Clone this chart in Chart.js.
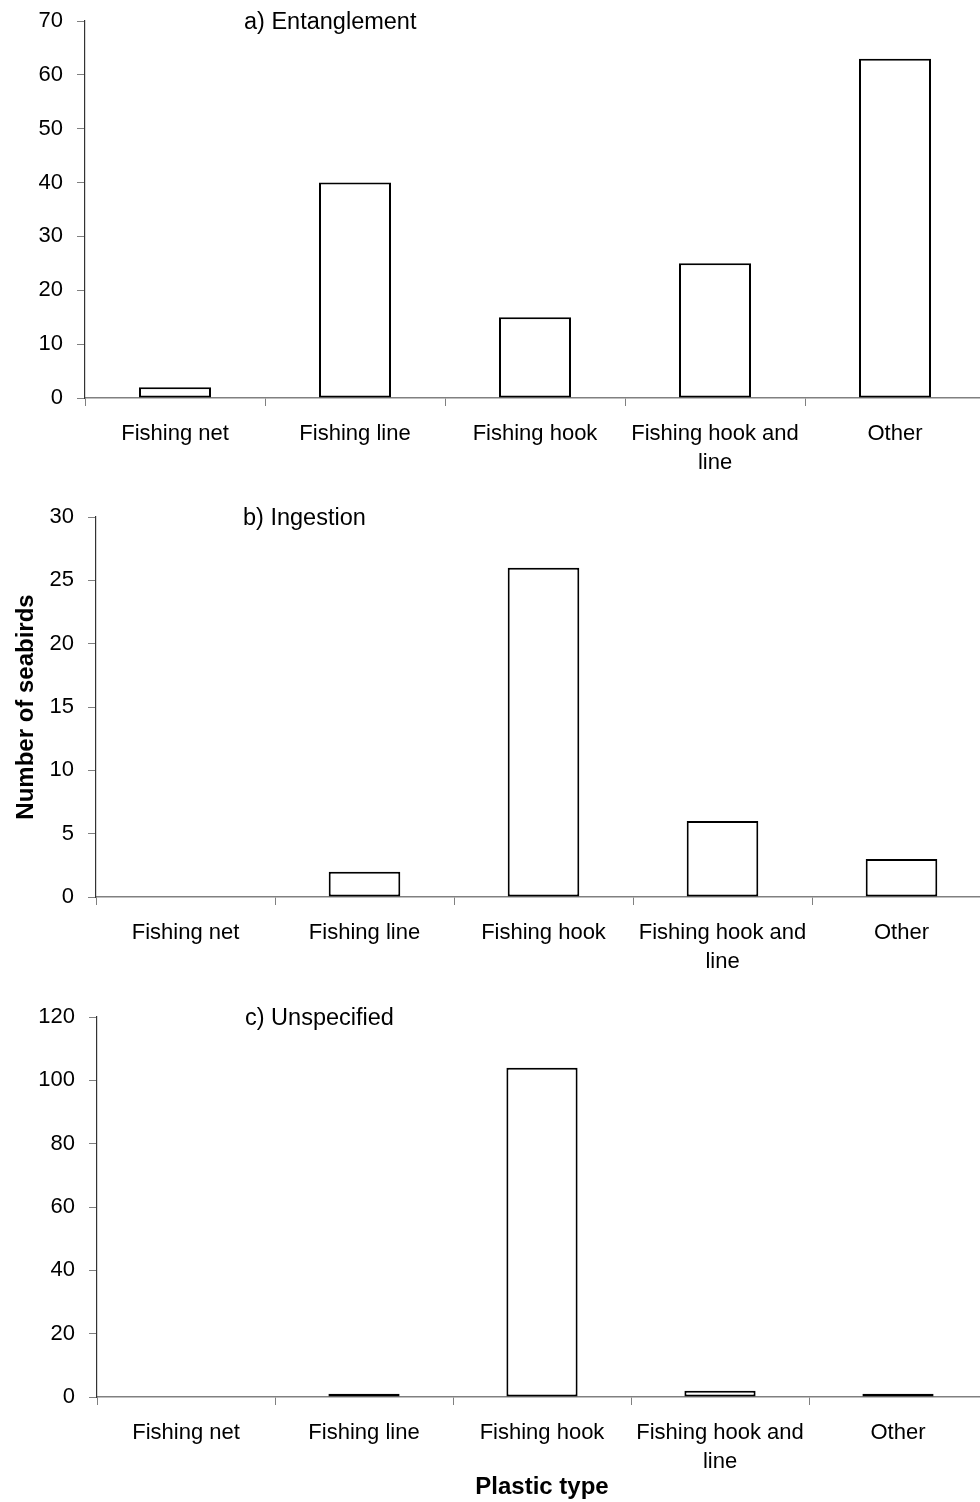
<!DOCTYPE html>
<html>
<head>
<meta charset="utf-8">
<script src="https://cdn.jsdelivr.net/npm/chart.js@4/dist/chart.umd.min.js"></script>
<style>
  html, body { margin: 0; padding: 0; background: #fff; }
  body { width: 980px; height: 1502px; position: relative; overflow: hidden; }
  canvas { position: absolute; left: 0; }
</style>
</head>
<body>
<canvas id="chartA"></canvas>
<canvas id="chartB"></canvas>
<canvas id="chartC"></canvas>
<script>
// ═════ DATA ═════
const categories = ['Fishing net', 'Fishing line', 'Fishing hook', ['Fishing hook and', 'line'], 'Other'];
const entanglement = [2, 40, 15, 25, 63];
const ingestion = [0, 2, 26, 6, 3];
const unspecified = [0, 1, 104, 2, 1];
const panelTitles = ['a) Entanglement', 'b) Ingestion', 'c) Unspecified'];
const yMax = [70, 30, 120];
const yStep = [10, 5, 20];
const yAxisTitle = 'Number of seabirds';
const xAxisTitle = 'Plastic type';

// ═════ LAYOUT ═════
const FONT = 'Arial, "Liberation Sans", sans-serif';
Chart.defaults.font.family = FONT;
Chart.defaults.font.size = 22;
Chart.defaults.color = '#000';

const panels = [
  { id: 'chartA', values: entanglement, top: 0,    height: 490, width: 985, axisX: 85, plotTop: 21, plotBottom: 398, titleX: 244 },
  { id: 'chartB', values: ingestion,    top: 500,  height: 490, width: 991, axisX: 96, plotTop: 17, plotBottom: 397, titleX: 243, yTitle: true },
  { id: 'chartC', values: unspecified,  top: 1000, height: 502, width: 987, axisX: 97, plotTop: 17, plotBottom: 397, titleX: 245, xTitle: true }
];

// panel caption drawn inside the plot area
const panelTitle = {
  id: 'panelTitle',
  afterDraw(chart, args, opts) {
    const ctx = chart.ctx;
    ctx.save();
    ctx.font = '23.5px ' + FONT;
    ctx.fillStyle = '#000';
    ctx.textBaseline = 'middle';
    ctx.fillText(opts.text, opts.x, chart.chartArea.top + 2);
    ctx.restore();
  }
};

panels.forEach((p, i) => {
  const cv = document.getElementById(p.id);
  cv.width = p.width; cv.height = p.height;
  cv.style.top = p.top + 'px';
  new Chart(cv.getContext('2d'), {
    type: 'bar',
    data: {
      labels: categories,
      datasets: [{
        data: p.values,
        backgroundColor: '#fff',
        borderColor: '#000',
        borderWidth: 2,
        borderSkipped: false,
        categoryPercentage: 1,
        barPercentage: 0.4
      }]
    },
    plugins: [panelTitle],
    options: {
      responsive: false,
      animation: false,
      devicePixelRatio: 1,
      layout: { padding: { top: p.plotTop, left: 0, right: 0, bottom: 0 } },
      plugins: {
        legend: { display: false },
        tooltip: { enabled: false },
        panelTitle: { text: panelTitles[i], x: p.titleX }
      },
      scales: {
        x: {
          grid: { offset: true, drawOnChartArea: false, drawTicks: true, tickLength: 8, color: '#808080' },
          border: { color: '#808080', width: 1.5 },
          ticks: { maxRotation: 0, autoSkip: false, padding: 13, font: { size: 22, lineHeight: 1.32 } },
          title: { display: !!p.xTitle, text: xAxisTitle, font: { size: 24, weight: 'bold' }, padding: { top: 0, bottom: 0 } },
          afterFit: s => { s.height = p.height - p.plotBottom; }
        },
        y: {
          min: 0, max: yMax[i],
          grid: { drawOnChartArea: false, drawTicks: true, tickLength: 8, color: '#808080' },
          border: { color: '#333', width: 1.2 },
          ticks: { stepSize: yStep[i], padding: 14, font: { size: 22 } },
          title: { display: !!p.yTitle, text: yAxisTitle, font: { size: 24, weight: 'bold' }, padding: { top: 12, bottom: 0 } },
          // fixed axis position; let layout padding set the plot top
          afterFit: s => { s.width = p.axisX; s.paddingTop = 0; s.paddingBottom = 0; }
        }
      }
    }
  });
});
</script>
</body>
</html>
